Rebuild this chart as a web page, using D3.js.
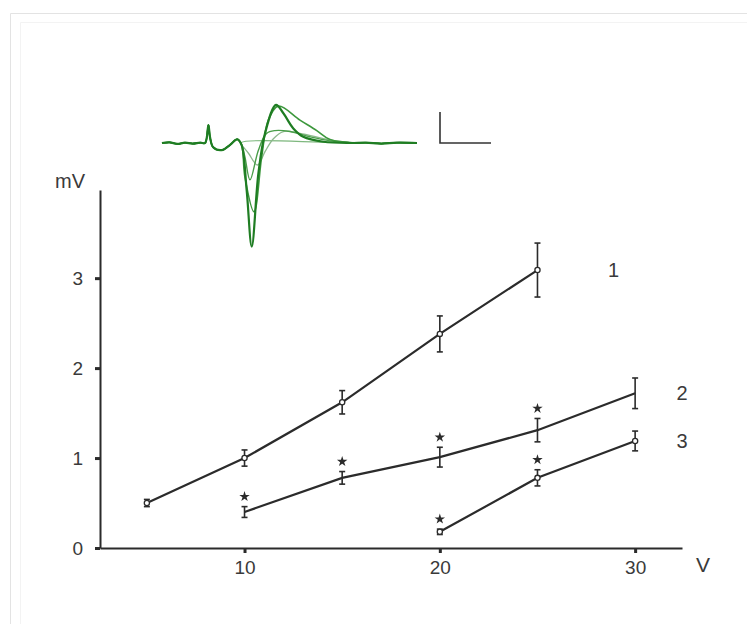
<!DOCTYPE html>
<html>
<head>
<meta charset="utf-8">
<script src="https://cdn.jsdelivr.net/npm/d3@7"></script>
<style>
  html, body { margin: 0; padding: 0; background: #fff; }
  svg { display: block; font-family: "Liberation Sans", Arial, sans-serif; }
</style>
</head>
<body>
<div id="chart"></div>
<script>
// Evoked response amplitude vs stimulus voltage, three conditions, with inset traces.

// --- data ---
const yTicks = [0, 1, 2, 3];
const xTicks = [10, 20, 30];

const volts1 = [5, 10, 15, 20, 25];
const amp1 = [0.5, 1.0, 1.62, 2.38, 3.09];
const err1 = [0.04, 0.09, 0.13, 0.2, 0.3];

const volts2 = [10, 15, 20, 25, 30];
const amp2 = [0.4, 0.78, 1.01, 1.31, 1.72];
const err2 = [0.06, 0.07, 0.11, 0.13, 0.17];
const star2 = [10, 15, 20, 25];

const volts3 = [20, 25, 30];
const amp3 = [0.18, 0.78, 1.19];
const err3 = [0.03, 0.09, 0.11];
const star3 = [20, 25];

const seriesNames = ['1', '2', '3'];

// inset traces: [ms, mV]
const tracePre = [[0, 0], [0.3, 0.02], [0.6, -0.03], [0.9, 0.01], [1.2, -0.02], [1.5, 0.01],
  [1.69, 0], [1.82, 0.58], [1.88, 0.2], [2.01, -0.14], [2.34, -0.23], [2.67, -0.06],
  [2.95, 0.12], [3.12, -0.06]];
const tracePost = [[8.0, 0.01], [8.6, -0.02], [9.2, 0.01], [10, 0]];
const trace1 = [[3.32, -1.52], [3.52, -3.34], [3.78, -0.98], [4.04, 0.31], [4.47, 1.23],
  [4.76, 0.96], [5.15, 0.47], [5.54, 0.2], [6.33, 0.04], [7.37, 0]];
const trace2 = [[3.25, -1.09], [3.61, -2.22], [3.91, -0.44], [4.17, 0.74], [4.56, 1.19],
  [5.41, 0.74], [6.07, 0.4], [6.59, 0.11], [7.63, 0]];
const trace3 = [[3.25, -0.44], [3.45, -1.19], [3.78, -0.23], [4.1, 0.31], [4.43, 0.4],
  [5.02, 0.37], [5.8, 0.2], [6.59, 0.07], [7.63, 0]];
const trace4 = [[3.39, -0.33], [3.74, -0.71], [4.04, -0.28], [4.36, 0.13], [4.76, 0.37],
  [5.41, 0.31], [6.59, 0.1], [7.63, 0]];
const traceFlat = [[3.12, 0.02], [6.6, 0.02]];
const scaleBarMs = 2;
const scaleBarMv = 1;

(function() {
  'use strict';

  const width = 747, height = 624;
  const ink = '#2b2b2b';
  const textColor = '#3a3a3a';

  const svg = d3.select('#chart').append('svg')
    .attr('width', width)
    .attr('height', height);

  // faint frame of the original scan
  svg.append('path')
    .attr('d', 'M10.5,624V13.5H747')
    .attr('fill', 'none')
    .attr('stroke', '#e3e3e3');
  svg.append('path')
    .attr('d', 'M20.5,624V22.5H747')
    .attr('fill', 'none')
    .attr('stroke', '#f3f3f3');

  const x = d3.scaleLinear().domain([2.6, 32.4]).range([100, 682]);
  const y = d3.scaleLinear().domain([0, 3.98]).range([548, 190]);

  // axes
  const xAxis = svg.append('g')
    .attr('transform', `translate(0,${y(0)})`)
    .call(d3.axisBottom(x).tickValues(xTicks).tickFormat(d3.format('d'))
      .tickSize(5).tickSizeOuter(0).tickPadding(8));
  const yAxis = svg.append('g')
    .attr('transform', `translate(${x.range()[0]},0)`)
    .call(d3.axisLeft(y).tickValues(yTicks).tickFormat(d3.format('d'))
      .tickSize(5).tickSizeOuter(0).tickPadding(12));

  [xAxis, yAxis].forEach(ax => {
    ax.select('.domain').attr('stroke', ink).attr('stroke-width', 2);
    ax.selectAll('.tick line').attr('stroke', ink).attr('stroke-width', 3);
    ax.selectAll('.tick text')
      .attr('fill', textColor)
      .style('font-size', '19px')
      .style('font-family', '"Liberation Sans", Arial, sans-serif');
  });

  svg.append('text')
    .attr('x', 70).attr('y', 188)
    .attr('text-anchor', 'middle')
    .attr('fill', textColor)
    .style('font-size', '20px')
    .text('mV');
  svg.append('text')
    .attr('x', 703).attr('y', 572)
    .attr('text-anchor', 'middle')
    .attr('fill', textColor)
    .style('font-size', '21px')
    .text('V');

  // series
  const series = [
    { v: volts1, a: amp1, e: err1, stars: [], dot: true, label: [76, 7] },
    { v: volts2, a: amp2, e: err2, stars: star2, dot: false, label: [47, 7] },
    { v: volts3, a: amp3, e: err3, stars: star3, dot: true, label: [47, 7] }
  ];

  const line = d3.line().x(d => x(d[0])).y(d => y(d[1]));

  series.forEach((s, i) => {
    const pts = s.v.map((v, j) => [v, s.a[j], s.e[j]]);
    const g = svg.append('g');

    g.append('path')
      .datum(pts)
      .attr('d', line)
      .attr('fill', 'none')
      .attr('stroke', ink)
      .attr('stroke-width', 2.2);

    const bars = g.selectAll('g.err')
      .data(pts)
      .join('g')
      .attr('class', 'err');
    bars.append('line')
      .attr('x1', d => x(d[0])).attr('x2', d => x(d[0]))
      .attr('y1', d => y(d[1] - d[2])).attr('y2', d => y(d[1] + d[2]))
      .attr('stroke', ink).attr('stroke-width', 1.6);
    bars.selectAll('line.cap')
      .data(d => [d[1] - d[2], d[1] + d[2]].map(val => [d[0], val]))
      .join('line')
      .attr('class', 'cap')
      .attr('x1', d => x(d[0]) - 3).attr('x2', d => x(d[0]) + 3)
      .attr('y1', d => y(d[1])).attr('y2', d => y(d[1]))
      .attr('stroke', ink).attr('stroke-width', 1.6);

    if (s.dot) {
      g.selectAll('circle')
        .data(pts)
        .join('circle')
        .attr('cx', d => x(d[0])).attr('cy', d => y(d[1]))
        .attr('r', 2.6)
        .attr('fill', '#fff')
        .attr('stroke', ink)
        .attr('stroke-width', 1.3);
    }

    g.selectAll('path.star')
      .data(pts.filter(d => s.stars.includes(d[0])))
      .join('path')
      .attr('class', 'star')
      .attr('transform', d => `translate(${x(d[0])},${y(d[1] + d[2]) - 10})`)
      .attr('d', d3.symbol(d3.symbolStar, 34))
      .attr('fill', ink);

    const last = pts[pts.length - 1];
    g.append('text')
      .attr('x', x(last[0]) + s.label[0])
      .attr('y', y(last[1]) + s.label[1])
      .attr('text-anchor', 'middle')
      .attr('fill', textColor)
      .style('font-size', '20px')
      .text(seriesNames[i]);
  });

  // --- inset: response traces ---
  const xIn = d3.scaleLinear().domain([0, 10]).range([162, 417]);
  const yIn = d3.scaleLinear().domain([0, 1]).range([143, 112]);
  const lineIn = d3.line()
    .x(d => xIn(d[0])).y(d => yIn(d[1]))
    .curve(d3.curveCatmullRom.alpha(0.5));

  const inset = svg.append('g');
  const traces = [
    { pts: tracePre.concat(traceFlat, tracePost), color: '#7fb87f', w: 1.2 },
    { pts: tracePre.concat(trace4, tracePost), color: '#8db88d', w: 1.3 },
    { pts: tracePre.concat(trace3, tracePost), color: '#4a9e4a', w: 1.4 },
    { pts: tracePre.concat(trace2, tracePost), color: '#3d983d', w: 1.6 },
    { pts: tracePre.concat(trace1, tracePost), color: '#1f7d23', w: 2.2 }
  ];
  inset.selectAll('path')
    .data(traces)
    .join('path')
    .attr('d', d => lineIn(d.pts))
    .attr('fill', 'none')
    .attr('stroke', d => d.color)
    .attr('stroke-width', d => d.w)
    .attr('stroke-linejoin', 'round');

  // scale bar
  const sbLen = xIn(scaleBarMs) - xIn(0);
  const sbLeft = 440;
  svg.append('path')
    .attr('d', `M${sbLeft},${yIn(scaleBarMv)}V${yIn(0)}H${sbLeft + sbLen}`)
    .attr('fill', 'none')
    .attr('stroke', '#333')
    .attr('stroke-width', 1.6);
})();
</script>
</body>
</html>
